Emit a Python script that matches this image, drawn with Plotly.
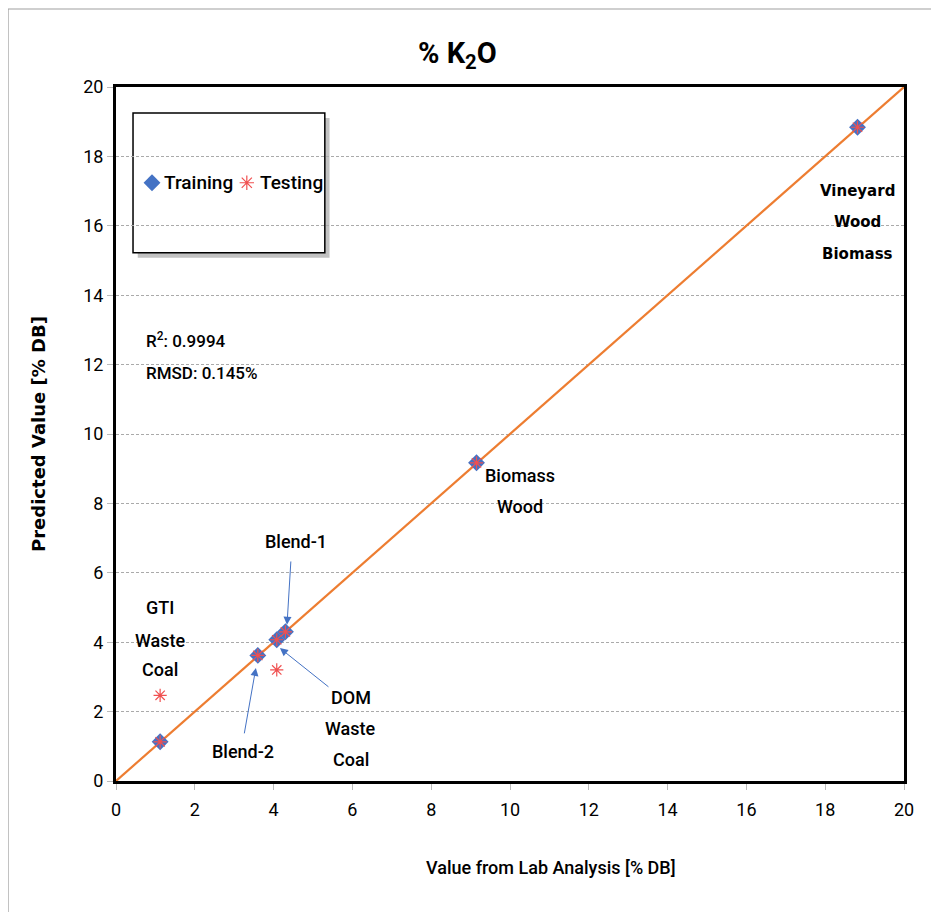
import plotly.graph_objects as go

# ---- data ----
train_x = [1.12, 3.60, 4.08, 4.30, 9.15, 18.82]
train_y = [1.13, 3.62, 4.07, 4.30, 9.17, 18.84]
test_x = [1.12, 1.12, 3.60, 4.08, 4.30, 4.08, 9.15, 18.82]
test_y = [1.13, 2.47, 3.62, 4.07, 4.30, 3.20, 9.17, 18.84]
line_x = [0, 20]
line_y = [0, 20]
ticks = [0, 2, 4, 6, 8, 10, 12, 14, 16, 18, 20]
series_names = ["Training", "Testing"]

BLUE = "#4472C4"
RED = "#F05050"
FONT = "Roboto"

fig = go.Figure()
fig.add_trace(go.Scatter(x=line_x, y=line_y, mode="lines",
                         line=dict(color="#ED7D31", width=2.2),
                         showlegend=False, hoverinfo="skip"))
fig.add_trace(go.Scatter(x=train_x, y=train_y, mode="markers", name=series_names[0],
                         showlegend=False,
                         marker=dict(symbol="diamond", size=13, color=BLUE)))
fig.add_trace(go.Scatter(x=test_x, y=test_y, mode="markers", name=series_names[1],
                         showlegend=False,
                         marker=dict(symbol="asterisk-open", size=11, color=RED,
                                     line=dict(color=RED, width=1.2))))

# manual legend (overlay axis spanning the plot area, 0..1)
fig.add_trace(go.Scatter(x=[0.0457], y=[0.862], xaxis="x2", yaxis="y2", mode="markers",
                         showlegend=False, hoverinfo="skip",
                         marker=dict(symbol="diamond", size=13, color=BLUE)))
fig.add_trace(go.Scatter(x=[0.166], y=[0.862], xaxis="x2", yaxis="y2", mode="markers",
                         showlegend=False, hoverinfo="skip",
                         marker=dict(symbol="asterisk-open", size=12, color=RED,
                                     line=dict(color=RED, width=1.2))))
fig.add_annotation(xref="paper", yref="paper", x=0.0584, y=0.862, xanchor="left",
                   yanchor="middle", text=series_names[0], showarrow=False,
                   font=dict(family=FONT, size=19, color="black", weight=500))
fig.add_annotation(xref="paper", yref="paper", x=0.180, y=0.862, xanchor="left",
                   yanchor="middle", text=series_names[1], showarrow=False,
                   font=dict(family=FONT, size=19, color="black", weight=500))

# outer border
fig.add_shape(type="rect", xref="paper", yref="paper",
              x0=-0.137, x1=1.06, y0=-0.25, y1=1.1124,
              line=dict(color="#A0A0A0", width=1.2), layer="below")
# legend box with shadow
fig.add_shape(type="rect", xref="paper", yref="paper",
              x0=0.0216 + 0.006, x1=0.265 + 0.006, y0=0.761 - 0.007, y1=0.9625 - 0.007,
              line=dict(width=0), fillcolor="rgba(120,120,120,0.45)", layer="between")
fig.add_shape(type="rect", xref="paper", yref="paper",
              x0=0.0216, x1=0.265, y0=0.761, y1=0.9625,
              line=dict(color="black", width=1.5), fillcolor="white", layer="between")

labels = [
    ("Vineyard", 18.81, 17.0, "DejaVu Sans"),
    ("Wood", 18.81, 16.1, "DejaVu Sans"),
    ("Biomass", 18.81, 15.2, "DejaVu Sans"),
    ("Biomass", 10.25, 8.79, FONT),
    ("Wood", 10.25, 7.92, FONT),
    ("Blend-1", 4.57, 6.89, FONT),
    ("Blend-2", 3.22, 0.84, FONT),
    ("DOM", 5.96, 2.42, FONT),
    ("Waste", 5.96, 1.50, FONT),
    ("Coal", 5.96, 0.61, FONT),
    ("GTI", 1.12, 4.99, FONT),
    ("Waste", 1.12, 4.06, FONT),
    ("Coal", 1.12, 3.20, FONT),
]
for t, x, y, f in labels:
    fig.add_annotation(x=x, y=y, text=t, showarrow=False,
                       font=dict(family=f, size=18 if f == FONT else 15, color="black",
                                 weight=500 if f == FONT else "bold"))

arrows = [
    (4.34, 4.50, 4.44, 6.37),
    (3.55, 3.26, 3.25, 1.33),
    (4.16, 3.83, 5.43, 2.68),
]
for hx, hy, tx, ty in arrows:
    fig.add_annotation(x=hx, y=hy, ax=tx, ay=ty, xref="x", yref="y",
                       axref="x", ayref="y", text="", showarrow=True,
                       arrowhead=2, arrowsize=1.6, arrowwidth=1, arrowcolor=BLUE)

fig.add_annotation(xref="paper", yref="paper", x=0.036, y=0.636, xanchor="left",
                   yanchor="middle", text="R<sup>2</sup>: 0.9994", showarrow=False,
                   font=dict(family=FONT, size=17, color="black", weight=500))
fig.add_annotation(xref="paper", yref="paper", x=0.036, y=0.588, xanchor="left",
                   yanchor="middle", text="RMSD: 0.145%", showarrow=False,
                   font=dict(family=FONT, size=17, color="black", weight=500))

fig.add_annotation(xref="paper", yref="paper", x=0.434, y=1.046, yanchor="middle",
                   text="% K<sub>2</sub>O", showarrow=False,
                   font=dict(family=FONT, size=29, color="black", weight="bold"))

# x-axis title (offset to the right as in the reference)
fig.add_annotation(xref="paper", yref="paper", x=0.552, y=-0.124, yanchor="middle",
                   text="Value from Lab Analysis [% DB]", showarrow=False,
                   font=dict(family=FONT, size=18, color="black", weight=500))

fig.update_layout(
    width=931, height=904,
    margin=dict(l=108, r=35, t=79, b=131),
    paper_bgcolor="white", plot_bgcolor="white",
    showlegend=False,
    xaxis=dict(range=[0, 20], tickvals=ticks, showgrid=False, zeroline=False,
               showline=True, linecolor="black", linewidth=3, mirror=True,
               ticks="outside", tickcolor="#BBBBBB", ticklen=6,
               ticklabelstandoff=4,
               tickfont=dict(family=FONT, size=18, color="black")),
    yaxis=dict(range=[0, 20], tickvals=ticks, showgrid=True, gridcolor="#AAAAAA",
               griddash="3px,2px", gridwidth=1, zeroline=False,
               showline=True, linecolor="black", linewidth=3, mirror=True,
               ticks="outside", tickcolor="#BBBBBB", ticklen=6,
               tickfont=dict(family=FONT, size=18, color="black"),
               title=dict(text="Predicted Value [% DB]", standoff=33,
                          font=dict(family="DejaVu Sans", size=18, color="black",
                                    weight="bold"))),
    xaxis2=dict(range=[0, 1], overlaying="x", visible=False, fixedrange=True),
    yaxis2=dict(range=[0, 1], overlaying="y", visible=False, fixedrange=True),
)

fig.write_html("out.html")
